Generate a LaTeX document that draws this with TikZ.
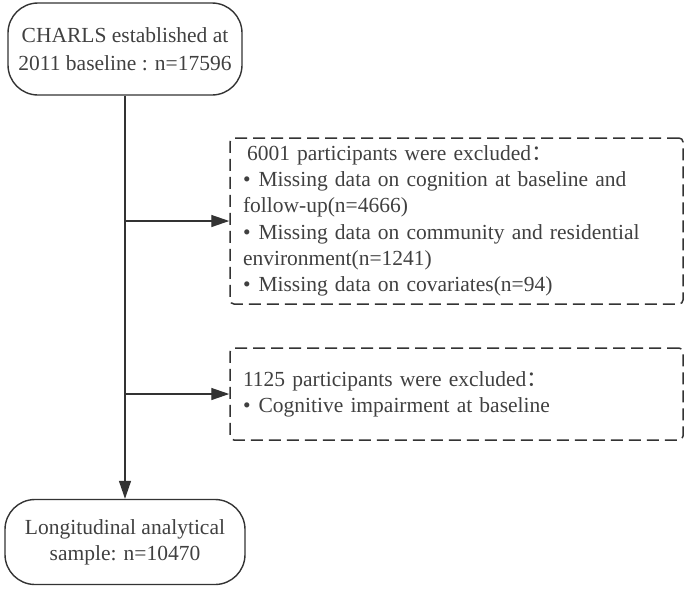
\documentclass[tikz,border=0pt]{standalone}
\usepackage{fontspec}
\setmainfont{Liberation Serif}
\newfontfamily\cjk{Noto Sans CJK SC}
\usetikzlibrary{arrows.meta,calc}
\definecolor{txt}{HTML}{404040}
\definecolor{ln}{HTML}{333333}
\begin{document}
\begin{tikzpicture}[x=1pt,y=1pt,
  font=\fontsize{21.5}{26}\selectfont,
  every node/.style={text=txt},
  term/.style={draw=ln,line width=1.4pt,rounded corners=30pt,align=center,inner sep=0pt},
  excl/.style={draw=ln,line width=1.5pt,dash pattern=on 12pt off 6pt,rounded corners=4pt,align=left,inner sep=0pt,minimum width=453pt,text width=427pt},
  flow/.style={draw=ln,line width=1.4pt,-{Triangle[length=18pt,width=12pt]}}]
\useasboundingbox (0,0) rectangle (685,-590);
\node[term,minimum width=234pt,minimum height=92pt] (top) at (125,-49)
  {CHARLS established at\\[2pt]2011 baseline : n=17596};
\node[term,minimum width=240pt,minimum height=85pt] (bot) at (125,-542)
  {Longitudinal analytical\\sample: n=10470};
\node[excl,minimum height=166pt] (ex1) at (456.5,-221)
  {\hspace*{4pt}6001 participants were excluded{\cjk ：}\\[0.3pt]
   •\hspace{8pt}Missing data on cognition at baseline and\\[0.3pt]
   follow-up(n=4666)\\[0.3pt]
   •\hspace{8pt}Missing data on community and residential\\[0.3pt]
   environment(n=1241)\\[0.3pt]
   •\hspace{8pt}Missing data on covariates(n=94)};
\node[excl,minimum height=92pt] (ex2) at (456.5,-394)
  {1125 participants were excluded{\cjk ：}\\
   •\hspace{8pt}Cognitive impairment at baseline};
\draw[flow] (top.south) -- (bot.north);
\coordinate (j1) at (top.south |- ex1.west);
\coordinate (j2) at (top.south |- ex2.west);
\draw[flow] (j1) -- (ex1.west);
\draw[flow] (j2) -- (ex2.west);
\end{tikzpicture}
\end{document}
